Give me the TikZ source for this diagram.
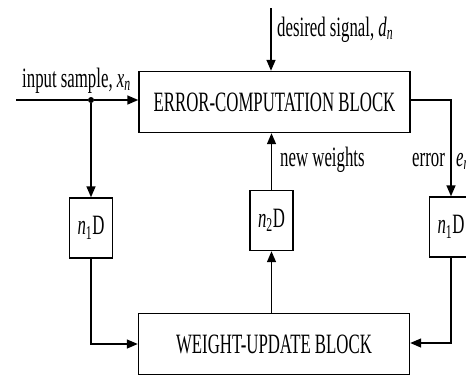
\documentclass[tikz,border=0pt]{standalone}
\usepackage{fontspec}
\setmainfont{Liberation Serif}[FakeStretch=0.6]
\usetikzlibrary{arrows.meta}

\begin{document}
\begin{tikzpicture}[x=1pt,y=-1pt,
  blk/.style={draw,line width=1.4pt,minimum width=271pt,minimum height=61pt,inner sep=0pt},
  dly/.style={draw,line width=1.4pt,minimum width=43pt,minimum height=60pt,inner sep=0pt},
  sig/.style={line width=1.4pt,-{Triangle[length=11pt,width=9pt]}},
  lbl/.style={anchor=base west,inner sep=0pt},
  font=\fontsize{28}{32}\selectfont]
\useasboundingbox (0,0) rectangle (466,391);
\clip (0,0) rectangle (466,391);
\fill [white] (0,0) rectangle (466,391);
\node [blk] (ecb) at (274.5,102) {ERROR-COMPUTATION BLOCK};
\node [blk] (wub) at (274,344) {WEIGHT-UPDATE BLOCK};
\node [dly] (dl) at (91,228) {\textit{n}\textsubscript{1}D};
\node [dly] (dm) at (271.5,220.5) {\textit{n}\textsubscript{2}D};
\node [dly] (dr) at (451,227) {\textit{n}\textsubscript{1}D};
\node [circle,fill,inner sep=0pt,minimum size=6pt] (tap) at (91,100) {};
\coordinate (in) at (16,100);
\coordinate (ds) at (271,8);
\draw [sig] (in) -- (tap) -- (ecb.west |- tap);
\draw [sig] (tap) -- (dl);
\draw [sig] (dl) |- (wub.west |- 0,344);
\draw [sig] (ds) -- (ds |- ecb.north);
\draw [sig] (wub.north -| dm) -- (dm);
\draw [sig] (dm) -- (dm |- ecb.south);
\draw [sig] (ecb.east |- 0,100) -| (dr);
\draw [sig] (dr) |- (wub.east |- 0,343);
\node [lbl] (lin) at (22,87) {input sample, \textit{x}\textsubscript{\textit{n}}};
\node [lbl] (lds) at (277,36) {desired signal, \textit{d}\textsubscript{\textit{n}}};
\node [lbl] (lnw) at (280,166) {new weights};
\node [lbl] (ler) at (412,166) {error};
\node [lbl] (len) at (456,166) {\textit{e}\textsubscript{\textit{n}}};
\end{tikzpicture}
\end{document}
